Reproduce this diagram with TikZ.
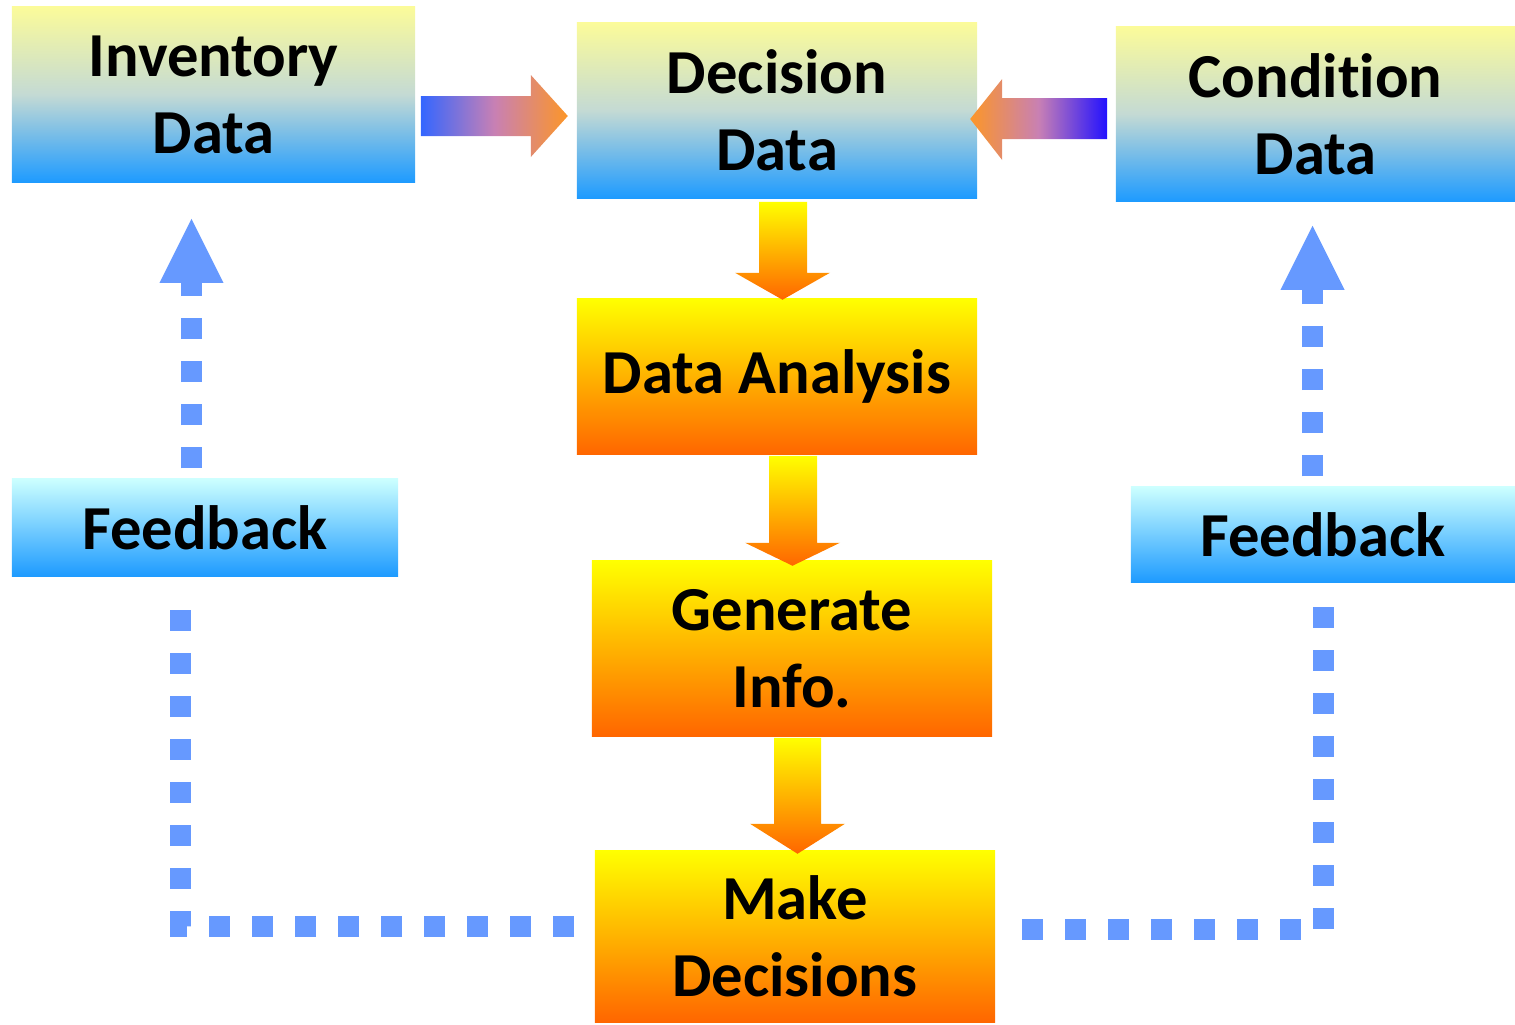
\documentclass[tikz,border=0pt]{standalone}
\usepackage{fontspec}
\setmainfont[Ligatures=NoCommon]{Carlito}
\usepackage{tikz}
\usetikzlibrary{arrows.meta, calc}
\definecolor{datatop}{RGB}{251,251,154}
\definecolor{datamid}{RGB}{196,218,212}
\definecolor{databot}{RGB}{30,155,255}
\definecolor{steptop}{RGB}{255,255,0}
\definecolor{stepbot}{RGB}{255,102,0}
\definecolor{fbtop}{RGB}{204,255,255}
\definecolor{fbblue}{RGB}{102,153,255}
\definecolor{tailblue}{RGB}{51,102,255}
\definecolor{taildeep}{RGB}{34,17,255}
\definecolor{tiporange}{RGB}{252,150,40}
\definecolor{arrowpink}{RGB}{200,128,180}
\tikzstyle{datas} = [rectangle, minimum width=4cm, minimum height=1.75cm, inner sep=0pt, align=center, top color=datatop, bottom color=databot, middle color=datamid, font=\bfseries\fontsize{17.8}{21.9}\selectfont]
\tikzstyle{stepbox} = [rectangle, minimum width=4cm, minimum height=1.75cm, inner sep=0pt, align=center, top color=steptop, bottom color=stepbot, font=\bfseries\fontsize{17.8}{21.9}\selectfont]
\tikzstyle{fbbox} = [rectangle, minimum width=3.86cm, minimum height=0.97cm, inner sep=0pt, align=center, top color=fbtop, bottom color=databot, font=\bfseries\fontsize{17.8}{21.9}\selectfont]
\tikzstyle{rarrow} = [left color=tailblue, right color=tiporange, middle color=arrowpink]
\tikzstyle{larrow} = [left color=tiporange, right color=taildeep, middle color=arrowpink]
\tikzstyle{darrow} = [top color=steptop, bottom color=stepbot]
\tikzstyle{fbline} = [draw=fbblue, line width=0.21cm, dash pattern=on 0.21cm off 0.22cm]
\tikzstyle{fbarrow} = [fbline, -{Triangle[length=0.64cm, width=0.64cm, line width=0pt]}]

\begin{document}
\begin{tikzpicture}[x=0.01cm, y=-0.01cm]
      \useasboundingbox (0,0) rectangle (1515,1024);

      \node[datas, minimum width=4.03cm] (inv) at (213.5,94.5) {Inventory\\Data};
      \node[datas] (dec) at (777,110.5) {Decision\\Data};
      \node[datas, minimum width=3.99cm, minimum height=1.74cm] (cond) at (1315.5,114) {Condition\\Data};
      \node[stepbox, minimum height=1.55cm] (ana) at (777,376.5) {Data Analysis};
      \node[stepbox] (gen) at (792,648.5) {Generate\\Info.};
      \node[stepbox, minimum height=1.71cm] (make) at (795,936.5) {Make\\Decisions};
      \node[fbbox] (fb1) at (205,527.5) {Feedback};
      \node[fbbox, minimum width=3.84cm, minimum height=0.95cm] (fb2) at (1323,534.5) {Feedback};

      \shade[rarrow] ([shift={(5,1.5)}]inv.east) -- ++(110,0) -- ++(0,-21) -- ++(37,41) -- ++(-37,41) -- ++(0,-21) -- ++(-110,0) -- cycle;
      \shade[larrow] ([shift={(-8,-16)}]cond.west) -- ++(-105,0) -- ++(0,-19) -- ++(-32,40) -- ++(32,41) -- ++(0,-21) -- ++(105,0) -- cycle;
      \shade[darrow] ([shift={(-18,3)}]dec.south) -- ++(48,0) -- ++(0,71) -- ++(23,0) -- ++(-47.5,27) -- ++(-47.5,-27) -- ++(24,0) -- cycle;
      \shade[darrow] ([shift={(-8,1)}]ana.south) -- ++(48,0) -- ++(0,87) -- ++(23,0) -- ++(-47.5,23) -- ++(-47.5,-23) -- ++(24,0) -- cycle;
      \shade[darrow] ([shift={(-18,1)}]gen.south) -- ++(47,0) -- ++(0,86) -- ++(24,0) -- ++(-47.5,30) -- ++(-47.5,-30) -- ++(24,0) -- cycle;

      \draw[fbarrow, shorten <=0.1cm, shorten >=0.36cm] ([xshift=-0.135cm]fb1.north) -- ([xshift=-0.135cm]fb1.north |- inv.south);
      \draw[fbarrow, shorten <=0.1cm, shorten >=0.24cm] ([xshift=-0.105cm]fb2.north) -- ([xshift=-0.105cm]fb2.north |- cond.south);
      \draw[fbline, shorten <=0.2cm, shorten >=0.17cm] ([yshift=0.105cm]make.west) -| ([xshift=-0.24cm]fb1.south);
      \draw[fbline, shorten <=0.26cm, shorten >=0.15cm] ([yshift=0.075cm]make.east) -| (fb2.south);
    \end{tikzpicture}
\end{document}
